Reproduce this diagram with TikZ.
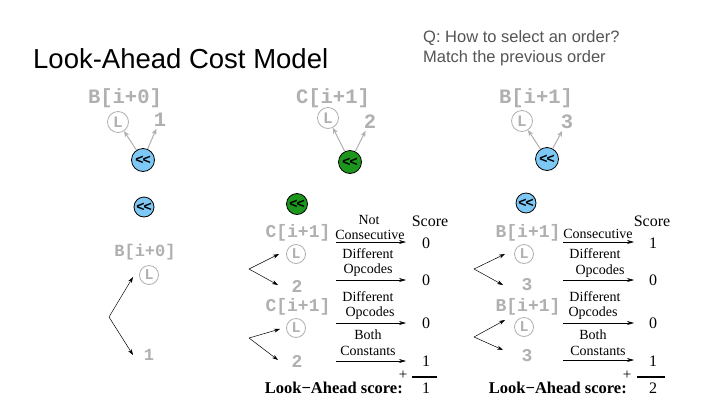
\documentclass[tikz,border=0pt]{standalone}
\usepackage{fontspec}
\setmainfont{Liberation Serif}
\setsansfont{Liberation Sans}
\setmonofont{Liberation Mono}
\usetikzlibrary{arrows.meta}
\definecolor{lbl}{RGB}{176,176,176}
\definecolor{opblue}{RGB}{126,200,246}
\definecolor{opgreen}{RGB}{28,150,28}
\definecolor{qgray}{RGB}{85,85,85}
\tikzset{
  titletext/.style={font=\sffamily\fontsize{27.5}{32}\selectfont, inner sep=0pt},
  qtext/.style={font=\sffamily\fontsize{16.5}{20}\selectfont, text=qgray, inner sep=0pt},
  bigref/.style={font=\ttfamily\bfseries\fontsize{20.5}{20}\selectfont, text=lbl, inner sep=0pt},
  smallref/.style={font=\ttfamily\bfseries\fontsize{18}{18}\selectfont, text=lbl, inner sep=0pt},
  leftref/.style={font=\ttfamily\bfseries\fontsize{17}{17}\selectfont, text=lbl, inner sep=0pt},
  lcirc/.style={circle, draw=lbl, line width=0.8pt, text=lbl, font=\ttfamily\bfseries\fontsize{16}{16}\selectfont, minimum size=21pt, inner sep=0pt},
  slcirc/.style={lcirc, minimum size=19pt, font=\ttfamily\bfseries\fontsize{15}{15}\selectfont},
  opnode/.style={circle, draw=black, line width=0.8pt, inner sep=0pt, font=\sffamily\bfseries\fontsize{14}{14}\selectfont},
  blueop/.style={opnode, fill=opblue},
  greenop/.style={opnode, fill=opgreen},
  garrow/.style={draw=lbl, line width=1pt, -{Stealth[length=6pt,width=5pt]}},
  karrow/.style={draw=black, line width=0.5pt, -{Stealth[length=6pt,width=4pt]}},
  larrow/.style={draw=black, line width=0.6pt, -{Stealth[length=7pt,width=4pt]}},
  lab/.style={font=\fontsize{14}{14}\selectfont, inner sep=0pt},
  scorehead/.style={font=\fontsize{16}{16}\selectfont, inner sep=0pt},
  num/.style={font=\fontsize{16}{16}\selectfont, inner sep=0pt},
  plus/.style={font=\fontsize{15}{15}\selectfont, inner sep=0pt},
  lascore/.style={font=\bfseries\fontsize{16.5}{16}\selectfont, inner sep=0pt},
  sumline/.style={draw=black, line width=1.6pt}
}
\newcommand{\ltlt}{{<}\kern-1pt{<}}
\begin{document}
\begin{tikzpicture}[x=1pt,y=-1pt]
\useasboundingbox[fill=white] (0,0) rectangle (720,405);

% titles
\node[titletext, anchor=base west] (title) at (33,68) {Look-Ahead Cost Model};
\node[qtext, anchor=base west] (q1) at (423,42) {Q: How to select an order?};
\node[qtext, anchor=base west] (q2) at (423,62) {Match the previous order};

% top group 1
\node[bigref] (r1) at (125,98) {B[i+0]};
\node[lcirc] (L1) at (118,122) {L};
\node[bigref] (n1) at (160,120) {1};
\node[blueop, minimum size=23pt] (op1) at (143,160) {\ltlt};
\node[blueop, minimum size=20pt] (op1b) at (144,207) {\ltlt};
\draw[garrow] (op1) -- (L1);
\draw[garrow, shorten >=2pt] (op1) -- (n1);

% top group 2
\node[bigref] (r2) at (333,98) {C[i+1]};
\node[lcirc] (L2) at (328,118) {L};
\node[bigref] (n2) at (370,122) {2};
\node[greenop, minimum size=23pt] (op2) at (350,162) {\ltlt};
\node[greenop, minimum size=21pt] (op2b) at (297,204) {\ltlt};
\draw[garrow] (op2) -- (L2);
\draw[garrow, shorten >=2pt] (op2) -- (n2);

% top group 3
\node[bigref] (r3) at (536,98) {B[i+1]};
\node[lcirc] (L3) at (522,121) {L};
\node[bigref] (n3) at (567,122) {3};
\node[blueop, minimum size=23pt] (op3) at (547,159) {\ltlt};
\node[blueop, minimum size=20pt] (op3b) at (526,203) {\ltlt};
\draw[garrow] (op3) -- (L3);
\draw[garrow, shorten >=2pt] (op3) -- (n3);

% lower left
\node[leftref] (r4) at (145,252) {B[i+0]};
\node[slcirc] (L4) at (149,275) {L};
\node[leftref] (n4) at (149,355) {1};
\coordinate (a4) at (109,317);
\coordinate (t4a) at (133,277);
\coordinate (t4b) at (133,355);
\draw[karrow] (a4) -- (t4a);
\draw[karrow] (a4) -- (t4b);

% middle lower
\node[smallref] (r5) at (298,233) {C[i+1]};
\node[slcirc] (L5) at (296,254) {L};
\node[smallref] (n5) at (297,286) {2};
\node[smallref] (r6) at (298,307) {C[i+1]};
\node[slcirc] (L6) at (296,328) {L};
\node[smallref] (n6) at (297,361) {2};
\coordinate (a5) at (249,269);
\coordinate (t5a) at (279,254);
\coordinate (t5b) at (278,285);
\coordinate (a6) at (249,338);
\coordinate (t6a) at (280,329);
\coordinate (t6b) at (278,360);
\draw[karrow] (a5) -- (t5a);
\draw[karrow] (a5) -- (t5b);
\draw[karrow] (a6) -- (t6a);
\draw[karrow] (a6) -- (t6b);

\node[lab] (m1a) at (369,220) {Not};
\node[lab] (m1b) at (370,235) {Consecutive};
\node[lab] (m2a) at (368,254) {Different};
\node[lab] (m2b) at (368,270) {Opcodes};
\node[lab] (m3a) at (368,297) {Different};
\node[lab] (m3b) at (370,313) {Opcodes};
\node[lab] (m4a) at (368,335) {Both};
\node[lab] (m4b) at (368,351) {Constants};
\coordinate (ms1) at (336,242); \coordinate (me1) at (406,242);
\coordinate (ms2) at (336,280); \coordinate (me2) at (406,280);
\coordinate (ms3) at (336,323); \coordinate (me3) at (406,323);
\coordinate (ms4) at (336,361); \coordinate (me4) at (406,361);
\draw[larrow] (ms1) -- (me1);
\draw[larrow] (ms2) -- (me2);
\draw[larrow] (ms3) -- (me3);
\draw[larrow] (ms4) -- (me4);
\node[scorehead] (sh1) at (430,221) {Score};
\node[num] (s11) at (426,243) {0};
\node[num] (s12) at (426,280) {0};
\node[num] (s13) at (426,323) {0};
\node[num] (s14) at (426,361) {1};
\coordinate (ls1) at (412,377); \coordinate (le1) at (437,377);
\draw[sumline] (ls1) -- (le1);
\node[plus] (p1) at (403,375) {+};
\node[lascore, anchor=base east] (la1) at (403,393) {Look−Ahead score:};
\node[num] (tot1) at (426,388) {1};

% right lower
\node[smallref] (r7) at (528,233) {B[i+1]};
\node[slcirc] (L7) at (524,254) {L};
\node[smallref] (n7) at (527,285) {3};
\node[smallref] (r8) at (528,307) {B[i+1]};
\node[slcirc] (L8) at (524,327) {L};
\node[smallref] (n8) at (527,356) {3};
\coordinate (a7) at (474,269);
\coordinate (t7a) at (505,254);
\coordinate (t7b) at (503,285);
\coordinate (a8) at (474,337);
\coordinate (t8a) at (505,320);
\coordinate (t8b) at (503,350);
\draw[karrow] (a7) -- (t7a);
\draw[karrow] (a7) -- (t7b);
\draw[karrow] (a8) -- (t8a);
\draw[karrow] (a8) -- (t8b);

\node[lab] (k1b) at (598,234) {Consecutive};
\node[lab] (k2a) at (595,254) {Different};
\node[lab] (k2b) at (600,271) {Opcodes};
\node[lab] (k3a) at (595,297) {Different};
\node[lab] (k3b) at (593,313) {Opcodes};
\node[lab] (k4a) at (593,335) {Both};
\node[lab] (k4b) at (598,351) {Constants};
\coordinate (ks1) at (563,242); \coordinate (ke1) at (634,242);
\coordinate (ks2) at (563,280); \coordinate (ke2) at (634,280);
\coordinate (ks3) at (563,323); \coordinate (ke3) at (634,323);
\coordinate (ks4) at (563,360); \coordinate (ke4) at (634,360);
\draw[larrow] (ks1) -- (ke1);
\draw[larrow] (ks2) -- (ke2);
\draw[larrow] (ks3) -- (ke3);
\draw[larrow] (ks4) -- (ke4);
\node[scorehead] (sh2) at (652,221) {Score};
\node[num] (s21) at (653,243) {1};
\node[num] (s22) at (653,280) {0};
\node[num] (s23) at (653,323) {0};
\node[num] (s24) at (653,361) {1};
\coordinate (ls2) at (637,377); \coordinate (le2) at (665,377);
\draw[sumline] (ls2) -- (le2);
\node[plus] (p2) at (627,375) {+};
\node[lascore, anchor=base east] (la2) at (627,393) {Look−Ahead score:};
\node[num] (tot2) at (653,388) {2};
\end{tikzpicture}
\end{document}
